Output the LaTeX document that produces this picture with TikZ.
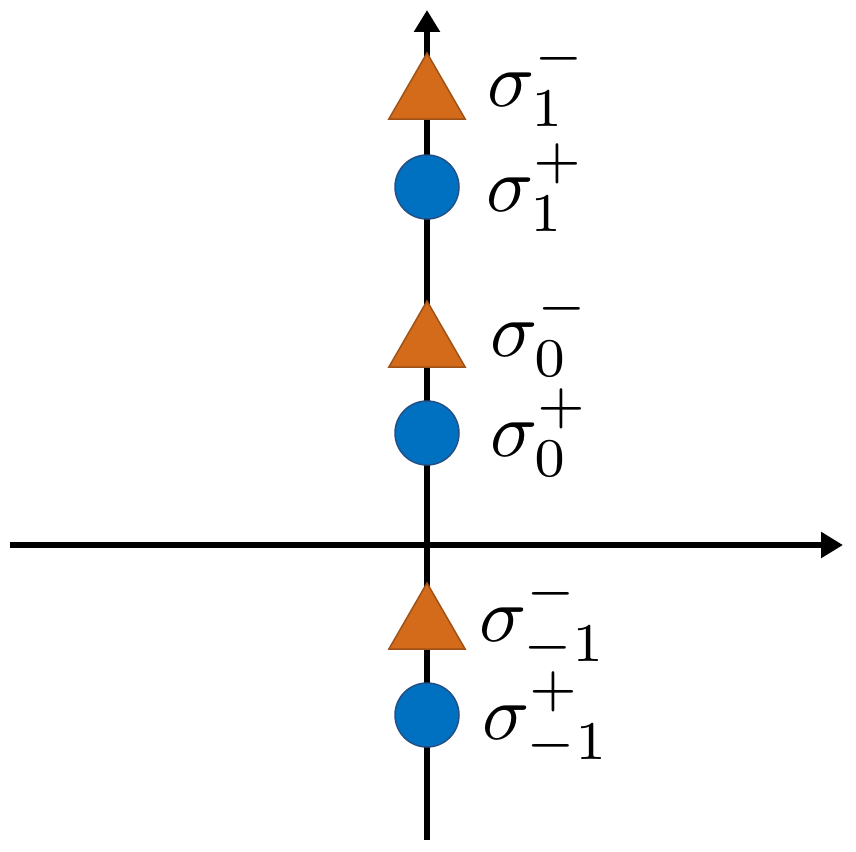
\documentclass[tikz,border=0pt]{standalone}
\usepackage{graphicx}
\usetikzlibrary{arrows.meta,shapes.geometric}
\definecolor{orfill}{RGB}{211,107,27}
\definecolor{ordraw}{RGB}{160,82,22}
\definecolor{blfill}{RGB}{0,112,192}
\definecolor{bldraw}{RGB}{35,80,135}
\newcommand{\biglab}[1]{\scalebox{7.8}{$#1$}}
\tikzset{
  axis/.style={line width=6pt,-{Triangle[length=22pt,width=25pt]}},
  tri/.style={regular polygon,regular polygon sides=3,minimum size=88pt,inner sep=0pt,fill=orfill,draw=ordraw,line width=1.5pt},
  dot/.style={circle,minimum size=64pt,inner sep=0pt,fill=blfill,draw=bldraw,line width=1.5pt},
  lab/.style={anchor=base west,inner sep=0pt}
}
\begin{document}
\begin{tikzpicture}[x=1pt,y=-1pt]
\useasboundingbox (0,0) rectangle (856,851);
\coordinate (vb) at (427,840);
\coordinate (vt) at (427,10);
\coordinate (hl) at (10,545);
\coordinate (hr) at (843,545);
\draw[axis] (vb) -- (vt);
\draw[axis] (hl) -- (hr);
\node[tri] (t1) at (427,97) {};
\node[dot] (c1) at (427,187) {};
\node[tri] (t0) at (427,345) {};
\node[dot] (c0) at (427,433) {};
\node[tri] (tm) at (427,627) {};
\node[dot] (cm) at (427,715) {};
\node[lab] (l1) at (487,106) {\biglab{\sigma_1^-}};
\node[lab] (l2) at (486,211) {\biglab{\sigma_1^+}};
\node[lab] (l3) at (490,356) {\biglab{\sigma_0^-}};
\node[lab] (l4) at (490,456) {\biglab{\sigma_0^+}};
\node[lab] (l5) at (479,641) {\biglab{\sigma_{-1}^-}};
\node[lab] (l6) at (482,739) {\biglab{\sigma_{-1}^+}};
\end{tikzpicture}
\end{document}
